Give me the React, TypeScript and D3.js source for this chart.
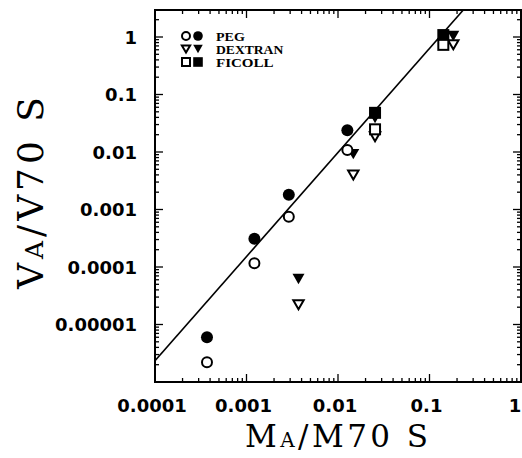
import React from "react";
import * as d3 from "d3";

// ---- data ----
const pegX = [3.7e-4, 1.22e-3, 2.9e-3, 0.01265];
const pegOpen = [2.2e-6, 1.16e-4, 7.5e-4, 0.0108];
const pegFilled = [6e-6, 3.1e-4, 1.8e-3, 0.024];

const dexX = [3.7e-3, 0.0147, 0.0254, 0.182];
const dexOpen = [2.2e-5, 0.004, 0.0185, 0.73];
const dexFilled = [6.2e-5, 0.0092, 0.039, 1.04];

const ficX = [0.0254, 0.1416];
const ficOpen = [0.0248, 0.73];
const ficFilled = [0.048, 1.08];

const fitX = [0.0001, 0.234];
const fitY = [2.35e-6, 2.95];

const xTickVals = [0.0001, 0.001, 0.01, 0.1, 1];
const xTickLabels = ["0.0001", "0.001", "0.01", "0.1", "1"];
const yTickVals = [1e-5, 1e-4, 1e-3, 1e-2, 1e-1, 1];
const yTickLabels = ["0.00001", "0.0001", "0.001", "0.01", "0.1", "1"];

const legendNames = ["PEG", "DEXTRAN", "FICOLL"];

// ---- layout ----
const W = 522, H = 458;
const L = 155, R = 521, T = 10, B = 382;

const x = d3.scaleLog().domain([1e-4, 1]).range([L, R]);
const y = d3.scaleLog().domain([1e-6, 1]).range([B, 37]);

function minorTicks(lo: number, hi: number) {
  const out: number[] = [];
  for (let e = Math.floor(Math.log10(lo)); e <= Math.ceil(Math.log10(hi)); e++) {
    for (let m = 2; m <= 9; m++) {
      const v = m * Math.pow(10, e);
      if (v > lo && v < hi) out.push(v);
    }
  }
  return out;
}

type Shape = "circle" | "tri" | "square";

function Marker({ cx, cy, shape, filled, s = 1 }: { cx: number; cy: number; shape: Shape; filled: boolean; s?: number }) {
  const fill = filled ? "#000" : "#fff";
  const sw = 2;
  if (shape === "circle") {
    const r = (filled ? 6 : 5) * s;
    return <circle cx={cx} cy={cy} r={r} fill={fill} stroke="#000" strokeWidth={filled ? 0 : sw} />;
  }
  if (shape === "tri") {
    const w = (filled ? 6 : 5.2) * s, h = (filled ? 5.2 : 4.5) * s;
    const p = d3.path();
    p.moveTo(cx - w, cy - h);
    p.lineTo(cx + w, cy - h);
    p.lineTo(cx, cy + h);
    p.closePath();
    return <path d={p.toString()} fill={fill} stroke="#000" strokeWidth={filled ? 0 : sw} strokeLinejoin="miter" />;
  }
  const a = (filled ? 6 : 5) * s;
  return <rect x={cx - a} y={cy - a} width={2 * a} height={2 * a} fill={fill} stroke="#000" strokeWidth={filled ? 0 : sw} />;
}

export default function App() {
  const xMinor = minorTicks(1e-4, 1);
  const yMinor = minorTicks(1e-6, 3);
  const line = d3.line<number>().x((_, i) => x(fitX[i])).y((d) => y(d));

  const series: { xs: number[]; open: number[]; filled: number[]; shape: Shape }[] = [
    { xs: pegX, open: pegOpen, filled: pegFilled, shape: "circle" },
    { xs: dexX, open: dexOpen, filled: dexFilled, shape: "tri" },
    { xs: ficX, open: ficOpen, filled: ficFilled, shape: "square" },
  ];
  const shapes: Shape[] = ["circle", "tri", "square"];
  const tickFont = { fontFamily: "DejaVu Sans", fontWeight: "bold" as const, fontSize: 18 };

  return (
    <svg width={W} height={H} style={{ position: "absolute", left: 0, top: 0, background: "#fff" }}>
      <rect x={0} y={0} width={W} height={H} fill="#fff" />
      <defs>
        <clipPath id="plot">
          <rect x={L} y={T} width={R - L} height={B - T} />
        </clipPath>
      </defs>

      {/* ticks */}
      <g stroke="#000" strokeWidth={1.3}>
        {xTickVals.map((v, i) => (
          <g key={"xm" + i}>
            <line x1={x(v)} x2={x(v)} y1={B} y2={B - 8} />
            <line x1={x(v)} x2={x(v)} y1={T} y2={T + 8} />
          </g>
        ))}
        {xMinor.map((v, i) => (
          <g key={"xn" + i}>
            <line x1={x(v)} x2={x(v)} y1={B} y2={B - 4} />
            <line x1={x(v)} x2={x(v)} y1={T} y2={T + 4} />
          </g>
        ))}
        {yTickVals.map((v, i) => (
          <g key={"ym" + i}>
            <line x1={L} x2={L + 8} y1={y(v)} y2={y(v)} />
            <line x1={R} x2={R - 8} y1={y(v)} y2={y(v)} />
          </g>
        ))}
        {yMinor.map((v, i) => (
          <g key={"yn" + i}>
            <line x1={L} x2={L + 4} y1={y(v)} y2={y(v)} />
            <line x1={R} x2={R - 4} y1={y(v)} y2={y(v)} />
          </g>
        ))}
      </g>

      {/* frame */}
      <rect x={L} y={T} width={R - L} height={B - T} fill="none" stroke="#000" strokeWidth={2} />

      {/* tick labels */}
      {xTickVals.map((v, i) => (
        <text key={"xl" + i} x={Math.min(x(v) - 3, W - 7)} y={412} textAnchor="middle" {...tickFont}>
          {xTickLabels[i]}
        </text>
      ))}
      {yTickVals.map((v, i) => (
        <text key={"yl" + i} x={137} y={y(v) + 6.5} textAnchor="end" {...tickFont}>
          {yTickLabels[i]}
        </text>
      ))}

      {/* fit line */}
      <path d={line(fitY) || ""} fill="none" stroke="#000" strokeWidth={1.6} clipPath="url(#plot)" />

      {/* data */}
      {series.map((sr, si) =>
        sr.xs.map((xv, i) => (
          <Marker key={`f${si}-${i}`} cx={x(xv)} cy={y(sr.filled[i])} shape={sr.shape} filled={true} />
        ))
      )}
      {series.map((sr, si) =>
        sr.xs.map((xv, i) => (
          <Marker key={`o${si}-${i}`} cx={x(xv)} cy={y(sr.open[i])} shape={sr.shape} filled={false} />
        ))
      )}

      {/* legend */}
      {legendNames.map((name, i) => {
        const cy = 36 + i * 13;
        return (
          <g key={"lg" + i}>
            <Marker cx={186} cy={cy} shape={shapes[i]} filled={false} s={0.8} />
            <Marker cx={198} cy={cy} shape={shapes[i]} filled={true} s={0.8} />
            <text x={216} y={cy + 4.5} fontFamily="Liberation Serif" fontWeight="bold" fontSize={12} textLength={name.length * 9.6} lengthAdjust="spacingAndGlyphs">
              {name}
            </text>
          </g>
        );
      })}

      {/* axis titles */}
      <text x={336.5} y={447} textAnchor="middle" fontFamily="DejaVu Serif" fontSize={31} textLength={183} lengthAdjust="spacing">
        M<tspan fontSize={20}>A</tspan>/M70 S
      </text>
      <text
        transform={`translate(43,193) rotate(-90)`}
        textAnchor="middle"
        fontFamily="DejaVu Serif"
        fontSize={36}
        textLength={192}
        lengthAdjust="spacing"
      >
        V<tspan fontSize={25}>A</tspan>/V70 S
      </text>
    </svg>
  );
}
